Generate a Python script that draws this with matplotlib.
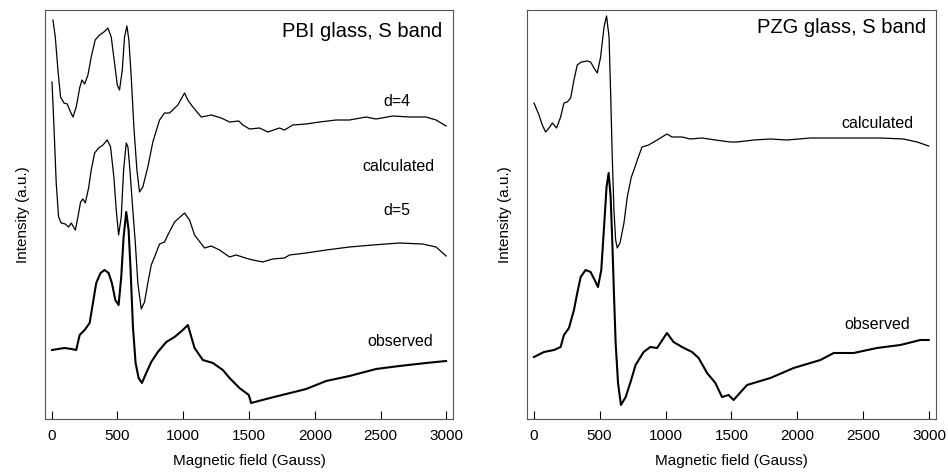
import numpy as np
import matplotlib.pyplot as plt

plt.rcParams['font.family'] = ['Liberation Sans', 'DejaVu Sans']

# PBI glass: field (Gauss) and intensity (arbitrary units, curves stacked)
pbi_d4_field = [10, 28, 48, 68, 94, 119, 137, 162, 187, 213, 230, 251, 276, 301, 331, 364,
                397, 428, 453, 478, 499, 516, 537, 554, 572, 587, 605, 625, 648, 668, 693,
                731, 769, 820, 858, 896, 959, 1010, 1035, 1073, 1137, 1213, 1289, 1352, 1422,
                1453, 1504, 1580, 1643, 1731, 1769, 1832, 1934, 2035, 2162, 2263, 2389, 2465,
                2592, 2718, 2845, 2921, 2997]
pbi_d4_int = [399, 382, 349, 322, 316, 315, 309, 302, 312, 331, 339, 335, 344, 362, 379, 384,
              387, 391, 382, 356, 334, 329, 349, 382, 393, 379, 342, 292, 249, 227, 232,
              252, 277, 299, 306, 306, 314, 326, 319, 312, 302, 304, 301, 297, 298,
              294, 290, 291, 287, 291, 289, 294, 295, 297, 299, 299, 302, 300,
              303, 302, 302, 299, 293]

pbi_d5_field = [3, 18, 35, 53, 73, 104, 129, 149, 180, 200, 220, 238, 256, 281, 301, 327,
                357, 390, 423, 448, 473, 491, 509, 529, 547, 567, 580, 595, 613, 636, 655,
                681, 706, 731, 757, 782, 820, 858, 883, 934, 1010, 1048, 1086, 1162, 1213,
                1276, 1352, 1402, 1498, 1529, 1604, 1680, 1769, 1807, 1934, 2086, 2263, 2440,
                2642, 2819, 2921, 2997]
pbi_d5_int = [337, 292, 236, 202, 196, 195, 192, 196, 189, 202, 217, 220, 216, 231, 249, 266,
              271, 274, 279, 272, 242, 209, 184, 202, 249, 276, 272, 249, 216, 176, 136,
              110, 117, 136, 154, 162, 175, 177, 184, 197, 206, 199, 184, 171, 173,
              169, 162, 164, 160, 159, 157, 160, 161, 164, 166, 169, 172, 174,
              176, 175, 172, 163]

pbi_obs_field = [3, 50, 99, 150, 187, 213, 251, 289, 314, 339, 372, 402, 433, 458, 484, 509,
                 529, 547, 567, 585, 600, 618, 638, 661, 686, 719, 757, 782, 807, 871, 934,
                 997, 1035, 1086, 1149, 1225, 1301, 1352, 1427, 1498, 1516, 1630, 1782, 1934,
                 2086, 2263, 2465, 2642, 2845, 2997]
pbi_obs_int = [69, 70, 71, 70, 69, 84, 89, 96, 116, 136, 146, 149, 146, 136, 119, 114,
               142, 182, 207, 189, 149, 92, 56, 41, 36, 46, 57, 62, 67, 77, 82,
               89, 94, 71, 59, 56, 49, 41, 31, 24, 16, 20, 25, 30,
               38, 43, 50, 53, 56, 58]

# PZG glass
pzg_calc_field = [3, 41, 66, 91, 117, 142, 174, 205, 230, 255, 281, 306, 331, 362, 407, 432,
                  458, 483, 508, 534, 553, 572, 584, 597, 609, 622, 634, 655, 685, 710, 741,
                  766, 786, 822, 872, 936, 1011, 1049, 1125, 1188, 1277, 1378, 1491, 1542,
                  1668, 1795, 1921, 2098, 2300, 2426, 2629, 2805, 2907, 2995]
pzg_calc_int = [316, 304, 294, 287, 291, 296, 291, 302, 316, 317, 321, 339, 354, 357, 358, 357,
                351, 346, 362, 392, 403, 382, 326, 259, 209, 179, 171, 176, 196, 222, 242,
                251, 259, 272, 274, 279, 285, 282, 282, 280, 281, 279, 277, 277,
                279, 280, 279, 281, 281, 281, 281, 280, 277, 273]

pzg_obs_field = [3, 79, 155, 205, 230, 268, 306, 331, 357, 394, 432, 463, 488, 513, 534, 553,
                 569, 584, 597, 609, 622, 640, 662, 698, 735, 773, 834, 885, 936, 1011, 1061,
                 1125, 1201, 1251, 1315, 1378, 1428, 1478, 1516, 1618, 1795, 1971, 2174, 2275,
                 2426, 2603, 2780, 2932, 2995]
pzg_obs_int = [62, 67, 69, 72, 84, 91, 109, 126, 142, 149, 147, 139, 132, 149, 192, 232,
               246, 222, 176, 126, 76, 36, 14, 22, 37, 54, 67, 72, 71, 86, 77,
               72, 67, 61, 46, 36, 22, 24, 19, 34, 41, 51, 59, 66,
               66, 71, 74, 79, 79]


def style_axes(ax):
    ax.set_xlim(-50, 3050)
    ax.set_ylim(0, 409)
    ax.set_xticks(np.arange(0, 3001, 500))
    ax.set_yticks([])
    ax.tick_params(axis='x', direction='in', length=6, width=0.8, pad=7, labelsize=11)
    for spine in ax.spines.values():
        spine.set_color('#555555')
        spine.set_linewidth(0.8)
    ax.set_xlabel('Magnetic field (Gauss)', fontsize=11, labelpad=8)
    ax.set_ylabel('Intensity (a.u.)', fontsize=11, labelpad=11)


fig = plt.figure(figsize=(9.48, 4.72), dpi=100)
ax1 = fig.add_axes([0.0475, 0.1123, 0.4304, 0.8665])
ax2 = fig.add_axes([0.5559, 0.1123, 0.4314, 0.8665])

ax1.plot(pbi_d4_field, pbi_d4_int, color='black', lw=0.9)
ax1.plot(pbi_d5_field, pbi_d5_int, color='black', lw=0.9)
ax1.plot(pbi_obs_field, pbi_obs_int, color='black', lw=1.5)
ax1.text(2969, 382, 'PBI glass, S band', fontsize=14.5, ha='right', va='baseline')
ax1.text(2627, 313, 'd=4', fontsize=11.5, ha='center', va='baseline')
ax1.text(2635, 248, 'calculated', fontsize=11.5, ha='center', va='baseline')
ax1.text(2627, 204, 'd=5', fontsize=11.5, ha='center', va='baseline')
ax1.text(2650, 73, 'observed', fontsize=11.5, ha='center', va='baseline')
style_axes(ax1)

ax2.plot(pzg_calc_field, pzg_calc_int, color='black', lw=0.9)
ax2.plot(pzg_obs_field, pzg_obs_int, color='black', lw=1.5)
ax2.text(2977, 386, 'PZG glass, S band', fontsize=14.5, ha='right', va='baseline')
ax2.text(2603, 291, 'calculated', fontsize=11.5, ha='center', va='baseline')
ax2.text(2606, 90, 'observed', fontsize=11.5, ha='center', va='baseline')
style_axes(ax2)

fig.savefig('out.png', dpi=100)
